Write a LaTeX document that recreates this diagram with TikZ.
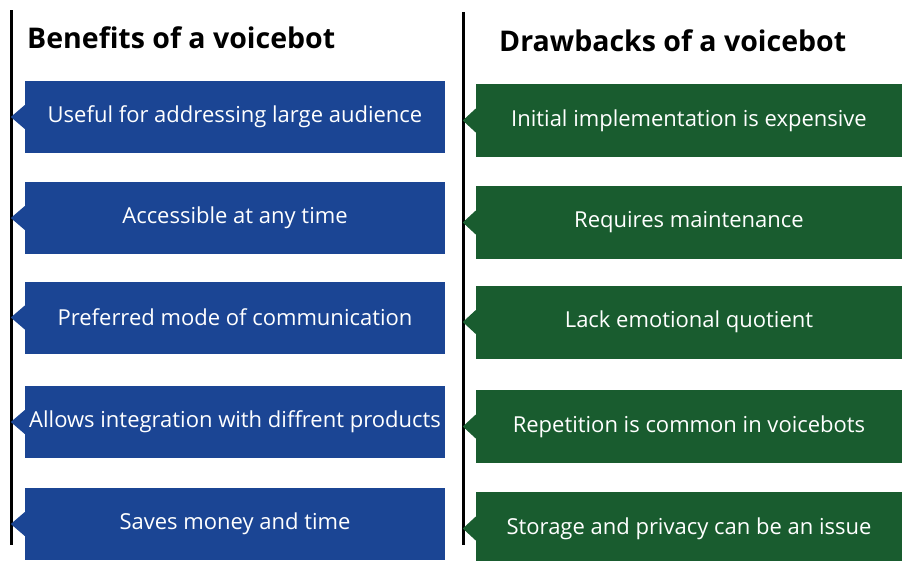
\documentclass[tikz,border=0pt]{standalone}
\usepackage{fontspec}
\setmainfont{Open Sans}
\definecolor{benefitblue}{HTML}{1B4594}
\definecolor{drawbackgreen}{HTML}{195C2F}
\tikzset{
  boxtext/.style={text=white, inner sep=0pt, font=\fontsize{22}{26}\selectfont},
  benefit/.style={boxtext, fill=benefitblue, minimum width=420pt, minimum height=72pt},
  drawback/.style={boxtext, fill=drawbackgreen, minimum width=426pt, minimum height=73pt},
  coltitle/.style={anchor=west, inner sep=0pt, font=\fontsize{28.5}{32}\selectfont\bfseries}
}

\begin{document}
\begin{tikzpicture}[x=1pt,y=-1pt]
                \useasboundingbox (0,0) rectangle (902,560);
                \draw[line width=3pt] (11,10) -- (11,545);
                \draw[line width=3pt] (463,12) -- (463,545);
                \node[coltitle] (bentitle) at (27,38) {Benefits of a voicebot};
                \node[coltitle] (dbtitle) at (499,41) {Drawbacks of a voicebot};
                \foreach \y/\n/\txt in {117/1/Useful for addressing large audience,
                                        218/2/Accessible at any time,
                                        317.5/3/Preferred mode of communication,
                                        422/4/Allows integration with diffrent products,
                                        524/5/Saves money and time}
                {
                \node[benefit] (ben\n) at (235,\y) {\txt};
                \fill[benefitblue] ([yshift=12pt]ben\n.west) -- ++(-14pt,-12pt) -- ++(14pt,-12pt) -- cycle;
                }
                \foreach \y/\n/\txt in {120.5/1/Initial implementation is expensive,
                                        222.5/2/Requires maintenance,
                                        322/3/Lack emotional quotient,
                                        426.5/4/Repetition is common in voicebots,
                                        528.5/5/Storage and privacy can be an issue}
                {
                \node[drawback] (db\n) at (689,\y) {\txt};
                \fill[drawbackgreen] ([yshift=12pt]db\n.west) -- ++(-13pt,-12pt) -- ++(13pt,-12pt) -- cycle;
                }
\end{tikzpicture}
\end{document}
